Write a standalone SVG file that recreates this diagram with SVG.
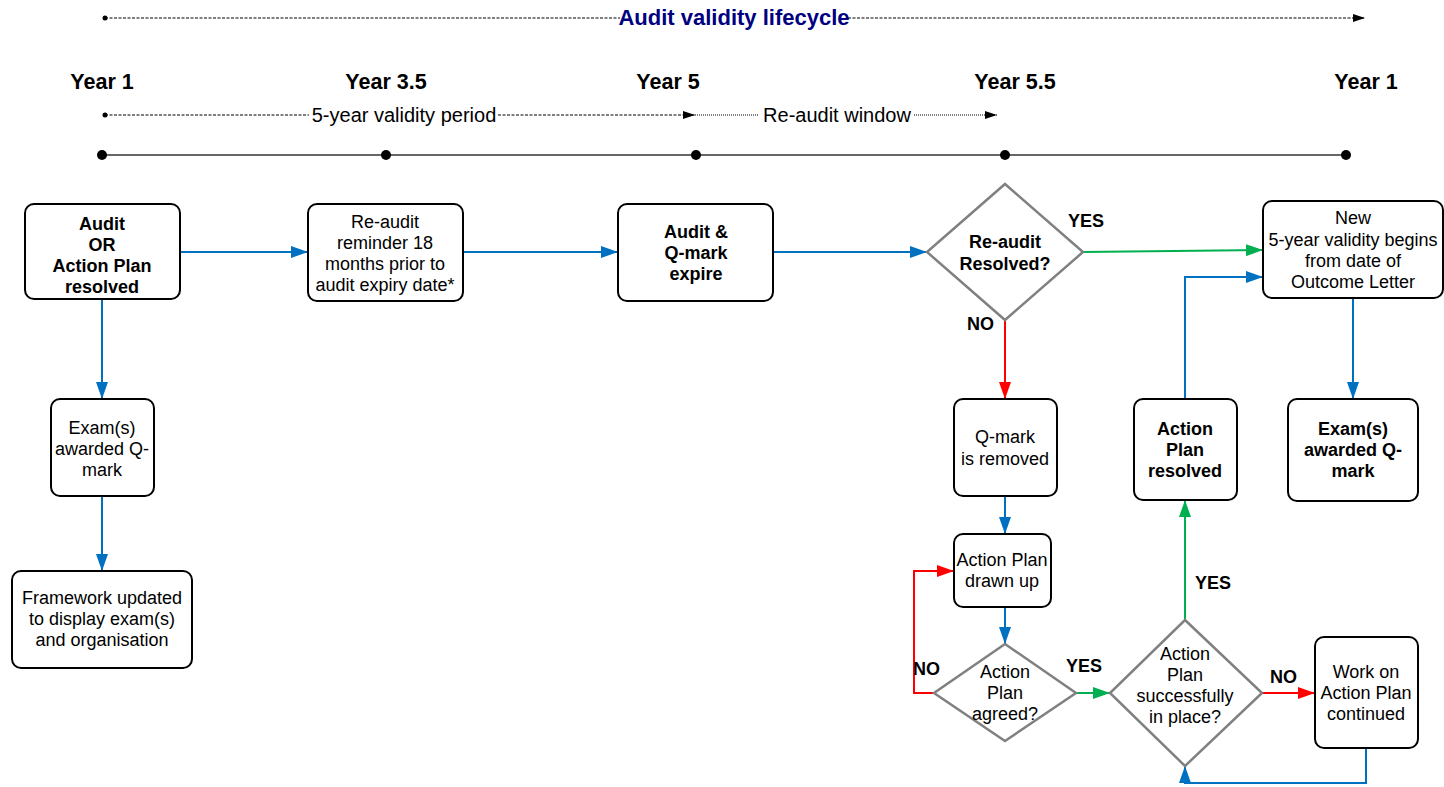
<svg xmlns="http://www.w3.org/2000/svg" width="1444" height="787" viewBox="0 0 1444 787">
  <style>
    text { font-family: "Liberation Sans", Arial, sans-serif; fill: #000; }
    .t { font-size: 18px; text-anchor: middle; }
    .tl { font-size: 20px; text-anchor: middle; }
    .b { font-weight: bold; }
    .yr { font-size: 21.5px; font-weight: bold; text-anchor: middle; }
    .lbl { font-size: 18px; font-weight: bold; }
    .box { fill: #fff; stroke: #000; stroke-width: 2; }
    .dia { fill: #fff; stroke: #808080; stroke-width: 2.5; }
    .blue { fill: none; stroke: #0070C0; stroke-width: 2; }
    .green { fill: none; stroke: #00B050; stroke-width: 2; }
    .red { fill: none; stroke: #FF0000; stroke-width: 2; }
    .dash { stroke: #000; stroke-width: 1; stroke-dasharray: 3 1.5; }
    .dot { stroke: #000; stroke-width: 1; stroke-dasharray: 1 1; }
  </style>
  <defs>
    <marker id="ab" viewBox="0 0 17 12" refX="17" refY="6" markerWidth="17" markerHeight="12" markerUnits="userSpaceOnUse" orient="auto"><path d="M0,0 L17,6 L0,12 z" fill="#0070C0"/></marker>
    <marker id="ag" viewBox="0 0 17 12" refX="17" refY="6" markerWidth="17" markerHeight="12" markerUnits="userSpaceOnUse" orient="auto"><path d="M0,0 L17,6 L0,12 z" fill="#00B050"/></marker>
    <marker id="ar" viewBox="0 0 17 12" refX="17" refY="6" markerWidth="17" markerHeight="12" markerUnits="userSpaceOnUse" orient="auto"><path d="M0,0 L17,6 L0,12 z" fill="#FF0000"/></marker>
    <marker id="ak" viewBox="0 0 12 8" refX="12" refY="4" markerWidth="12" markerHeight="8" markerUnits="userSpaceOnUse" orient="auto"><path d="M0,0 L12,4 L0,8 z" fill="#000"/></marker>
  </defs>

  <!-- Timeline header -->
  <g id="timeline">
    <line class="dash" x1="105" y1="18" x2="620" y2="18"/>
    <line class="dash" x1="848" y1="18" x2="1365" y2="18" marker-end="url(#ak)"/>
    <circle cx="105" cy="18" r="2.5" fill="#000"/>
    <text x="734" y="25" style="font-size:22px;font-weight:bold;text-anchor:middle;fill:#000080">Audit validity lifecycle</text>

    <text class="yr" x="102" y="89">Year 1</text>
    <text class="yr" x="386" y="89">Year 3.5</text>
    <text class="yr" x="668" y="89">Year 5</text>
    <text class="yr" x="1015" y="89">Year 5.5</text>
    <text class="yr" x="1366" y="89">Year 1</text>

    <circle cx="105" cy="115" r="2.5" fill="#000"/>
    <line class="dash" x1="105" y1="115" x2="309" y2="115"/>
    <text class="tl" x="404" y="122">5-year validity period</text>
    <line class="dash" x1="498" y1="115" x2="695" y2="115" marker-end="url(#ak)"/>
    <line class="dot" x1="695" y1="115" x2="759" y2="115"/>
    <text class="tl" x="837" y="122">Re-audit  window</text>
    <line class="dot" x1="914" y1="115" x2="997" y2="115" marker-end="url(#ak)"/>

    <line x1="102" y1="155" x2="1346" y2="155" stroke="#333" stroke-width="1.5"/>
    <circle cx="102" cy="155" r="5" fill="#000"/>
    <circle cx="386" cy="155" r="5" fill="#000"/>
    <circle cx="696" cy="155" r="5" fill="#000"/>
    <circle cx="1005" cy="155" r="5" fill="#000"/>
    <circle cx="1346" cy="155" r="5" fill="#000"/>
  </g>

  <!-- Connectors -->
  <g id="connectors">
    <path class="blue" d="M180,252 H308" marker-end="url(#ab)"/>
    <path class="blue" d="M463,252 H618" marker-end="url(#ab)"/>
    <path class="blue" d="M773,252 H927" marker-end="url(#ab)"/>
    <path class="green" d="M1083,252 L1263,250" marker-end="url(#ag)"/>
    <path class="red" d="M1005,320 V399" marker-end="url(#ar)"/>
    <path class="blue" d="M102,299 V399" marker-end="url(#ab)"/>
    <path class="blue" d="M102,496 V571" marker-end="url(#ab)"/>
    <path class="blue" d="M1005,496 V534" marker-end="url(#ab)"/>
    <path class="blue" d="M1005,607 V644" marker-end="url(#ab)"/>
    <path class="red" d="M934,693 H914 V571 H954" marker-end="url(#ar)"/>
    <path class="green" d="M1076,693 H1110" marker-end="url(#ag)"/>
    <path class="green" d="M1185,620 V500" marker-end="url(#ag)"/>
    <path class="red" d="M1262,693 H1315" marker-end="url(#ar)"/>
    <path class="blue" d="M1366,748 V783 H1185 V766" marker-end="url(#ab)"/>
    <path class="blue" d="M1185,399 V277 H1263" marker-end="url(#ab)"/>
    <path class="blue" d="M1353,298 V399" marker-end="url(#ab)"/>

    <text class="lbl" x="1068" y="227">YES</text>
    <text class="lbl" x="967" y="330">NO</text>
    <text class="lbl" x="913" y="675">NO</text>
    <text class="lbl" x="1066" y="672">YES</text>
    <text class="lbl" x="1195" y="589">YES</text>
    <text class="lbl" x="1270" y="683">NO</text>
  </g>

  <!-- Nodes -->
  <g id="audit-resolved">
    <rect class="box" x="25" y="204" width="155" height="95" rx="9"/>
    <text class="t b" x="102" y="230">Audit</text>
    <text class="t b" x="102" y="251">OR</text>
    <text class="t b" x="102" y="272">Action Plan</text>
    <text class="t b" x="102" y="293">resolved</text>
  </g>
  <g id="reminder">
    <rect class="box" x="308" y="204" width="155" height="97" rx="9"/>
    <text class="t" x="385" y="228">Re-audit</text>
    <text class="t" x="385" y="249">reminder 18</text>
    <text class="t" x="385" y="270">months prior to</text>
    <text class="t" x="385" y="291">audit expiry date*</text>
  </g>
  <g id="expire">
    <rect class="box" x="618" y="204" width="155" height="97" rx="9"/>
    <text class="t b" x="696" y="238">Audit &amp;</text>
    <text class="t b" x="696" y="259">Q-mark</text>
    <text class="t b" x="696" y="280">expire</text>
  </g>
  <g id="reaudit-decision">
    <polygon class="dia" points="1005,184 1083,252 1005,320 927,252"/>
    <text class="t b" x="1005" y="248">Re-audit</text>
    <text class="t b" x="1005" y="270">Resolved?</text>
  </g>
  <g id="new-validity">
    <rect class="box" x="1263" y="201" width="180" height="97" rx="9"/>
    <text class="t" x="1353" y="224">New</text>
    <text class="t" x="1353" y="246">5-year validity begins</text>
    <text class="t" x="1353" y="267">from date of</text>
    <text class="t" x="1353" y="288">Outcome Letter</text>
  </g>
  <g id="exam-awarded-1">
    <rect class="box" x="51" y="399" width="103" height="97" rx="9"/>
    <text class="t" x="102" y="434">Exam(s)</text>
    <text class="t" x="102" y="455">awarded Q-</text>
    <text class="t" x="102" y="476">mark</text>
  </g>
  <g id="framework">
    <rect class="box" x="12" y="571" width="180" height="97" rx="9"/>
    <text class="t" x="102" y="604">Framework updated</text>
    <text class="t" x="102" y="625">to display exam(s)</text>
    <text class="t" x="102" y="646">and organisation</text>
  </g>
  <g id="qmark-removed">
    <rect class="box" x="954" y="399" width="103" height="97" rx="9"/>
    <text class="t" x="1005" y="443">Q-mark</text>
    <text class="t" x="1005" y="465">is removed</text>
  </g>
  <g id="plan-drawn">
    <rect class="box" x="954" y="534" width="97" height="73" rx="9"/>
    <text class="t" x="1002" y="566">Action Plan</text>
    <text class="t" x="1002" y="587">drawn up</text>
  </g>
  <g id="plan-agreed">
    <polygon class="dia" points="1005,644 1076,693 1005,741 934,693"/>
    <text class="t" x="1005" y="678">Action</text>
    <text class="t" x="1005" y="699">Plan</text>
    <text class="t" x="1005" y="720">agreed?</text>
  </g>
  <g id="plan-in-place">
    <polygon class="dia" points="1185,620 1262,693 1185,766 1110,693"/>
    <text class="t" x="1185" y="660">Action</text>
    <text class="t" x="1185" y="681">Plan</text>
    <text class="t" x="1185" y="702">successfully</text>
    <text class="t" x="1185" y="723">in place?</text>
  </g>
  <g id="work-continued">
    <rect class="box" x="1315" y="637" width="103" height="111" rx="9"/>
    <text class="t" x="1366" y="678">Work on</text>
    <text class="t" x="1366" y="699">Action Plan</text>
    <text class="t" x="1366" y="720">continued</text>
  </g>
  <g id="plan-resolved">
    <rect class="box" x="1134" y="399" width="103" height="101" rx="9"/>
    <text class="t b" x="1185" y="435">Action</text>
    <text class="t b" x="1185" y="456">Plan</text>
    <text class="t b" x="1185" y="477">resolved</text>
  </g>
  <g id="exam-awarded-2">
    <rect class="box" x="1288" y="399" width="130" height="102" rx="9"/>
    <text class="t b" x="1353" y="435">Exam(s)</text>
    <text class="t b" x="1353" y="456">awarded Q-</text>
    <text class="t b" x="1353" y="477">mark</text>
  </g>
</svg>
